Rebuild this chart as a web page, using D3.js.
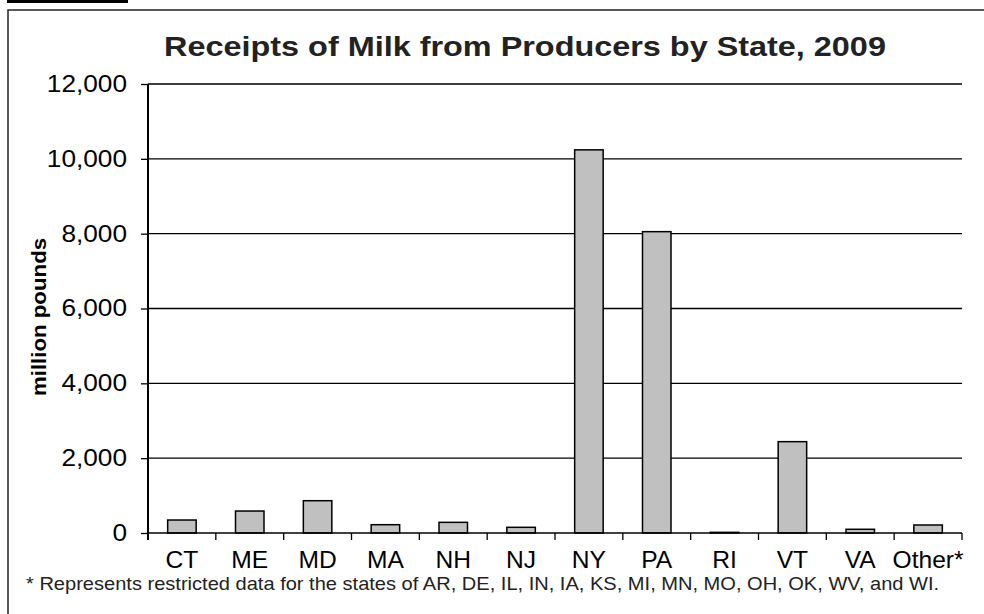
<!DOCTYPE html>
<html>
<head>
<meta charset="utf-8">
<script src="https://cdn.jsdelivr.net/npm/d3@7"></script>
<style>
  body { margin: 0; background: #fff; }
  text { font-family: "Liberation Sans", Arial, sans-serif; }
</style>
</head>
<body>
<svg id="chart" width="984" height="614"></svg>
<script>
// data (million pounds)
const states = ["CT", "ME", "MD", "MA", "NH", "NJ", "NY", "PA", "RI", "VT", "VA", "Other*"];
const receipts = [347, 587, 863, 222, 285, 152, 10240, 8054, 18, 2441, 99, 214];
const yTicks = [0, 2000, 4000, 6000, 8000, 10000, 12000];

const titleText = "Receipts of Milk from Producers by State, 2009";
const yLabel = "million pounds";
const footnote = "* Represents restricted data for the states of AR, DE, IL, IN, IA, KS, MI, MN, MO, OH, OK, WV, and WI.";

const svg = d3.select("#chart");

// plot area
const plotL = 148, plotR = 962, plotT = 84, plotB = 533;

// the source font runs wider than Liberation Sans, so stretch text sideways a little
const wide = 1.14;

// little black tab and the frame round the figure
svg.append("rect").attr("x", 7).attr("y", -2).attr("width", 121).attr("height", 5).attr("fill", "#000");
svg.append("rect")
    .attr("x", 8).attr("y", 10).attr("width", 1000).attr("height", 700)
    .attr("fill", "none").attr("stroke", "#222").attr("stroke-width", 1.5);

const x = d3.scaleBand().domain(states).range([plotL, plotR]).paddingInner(0).paddingOuter(0);
const y = d3.scaleLinear().domain([0, 12000]).range([plotB, plotT]);

// gridlines
svg.append("g")
    .selectAll("line")
    .data(yTicks.filter(d => d > 0))
    .join("line")
    .attr("x1", plotL).attr("x2", plotR)
    .attr("y1", d => y(d)).attr("y2", d => y(d))
    .attr("stroke", "#000").attr("stroke-width", 1.3);

// bars
svg.append("g")
    .selectAll("rect")
    .data(states.map((s, i) => ({ s, v: receipts[i] })))
    .join("rect")
    .attr("x", d => x(d.s) + x.bandwidth() * 0.29)
    .attr("width", x.bandwidth() * 0.42)
    .attr("y", d => y(d.v))
    .attr("height", d => y(0) - y(d.v))
    .attr("fill", "#c0c0c0")
    .attr("stroke", "#000").attr("stroke-width", 1.5);

// y axis
const yAxis = svg.append("g")
    .attr("transform", `translate(${plotL},0)`)
    .call(d3.axisLeft(y).tickValues(yTicks).tickSize(7).tickPadding(14).tickFormat(d3.format(",")));
yAxis.select(".domain").attr("stroke", "#000").attr("stroke-width", 2).attr("d", `M0,${plotT}V${plotB + 7}`);
yAxis.selectAll(".tick line").attr("stroke", "#000").attr("stroke-width", 1.3);
yAxis.selectAll(".tick text")
    .attr("x", 0)
    .attr("transform", `translate(-21,0) scale(${wide},1)`)
    .attr("font-size", "23px").attr("fill", "#000")
    .attr("font-family", "Liberation Sans, Arial, sans-serif");

// x axis with ticks on band edges
const xAxis = svg.append("g").attr("transform", `translate(0,${plotB})`);
xAxis.append("line").attr("x1", plotL).attr("x2", plotR).attr("stroke", "#000").attr("stroke-width", 1.5);
xAxis.selectAll(".edge")
    .data(states.map(s => x(s) + x.bandwidth()))
    .join("line")
    .attr("class", "edge")
    .attr("x1", d => d).attr("x2", d => d)
    .attr("y1", 0).attr("y2", 7)
    .attr("stroke", "#000").attr("stroke-width", 1.3);
xAxis.selectAll("text")
    .data(states)
    .join("text")
    .attr("transform", d => `translate(${x(d) + x.bandwidth() / 2},35) scale(1.07,1)`)
    .attr("text-anchor", "middle")
    .attr("font-size", "23px")
    .attr("fill", "#000")
    .text(d => d);

// title
svg.append("text")
    .attr("transform", "translate(525,56) scale(1.2,1)")
    .attr("text-anchor", "middle")
    .attr("font-size", "27px").attr("font-weight", "bold")
    .attr("fill", "#222")
    .text(titleText);

// y label
svg.append("text")
    .attr("transform", "translate(46,317) rotate(-90) scale(1.06,1)")
    .attr("text-anchor", "middle")
    .attr("font-size", "21px").attr("font-weight", "bold")
    .attr("fill", "#000")
    .text(yLabel);

// footnote
svg.append("text")
    .attr("transform", "translate(26,590) scale(1.115,1)")
    .attr("font-size", "18px")
    .attr("fill", "#222")
    .text(footnote);
</script>
</body>
</html>
